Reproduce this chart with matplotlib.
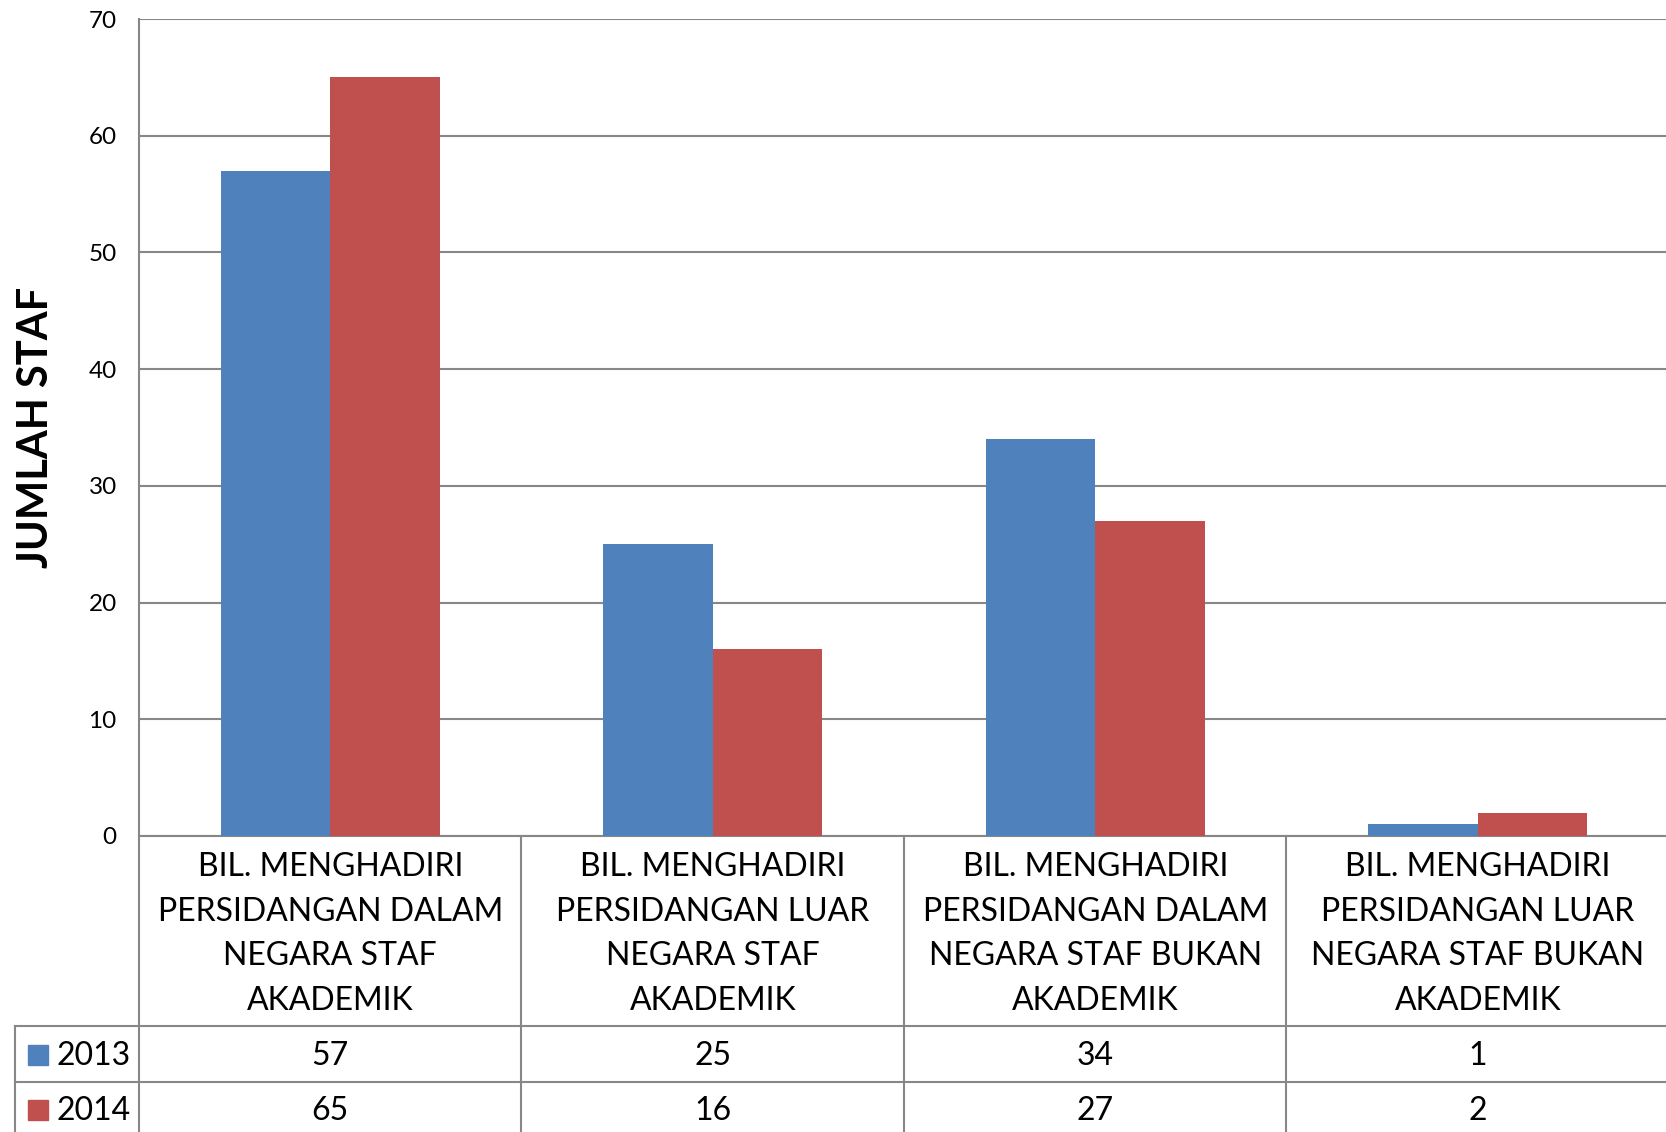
import numpy as np
import matplotlib
matplotlib.use("Agg")
from matplotlib import pyplot as plt

plt.rcParams["font.family"] = ["Lato", "DejaVu Sans"]

categories = [
    "BIL. MENGHADIRI\nPERSIDANGAN DALAM\nNEGARA STAF\nAKADEMIK",
    "BIL. MENGHADIRI\nPERSIDANGAN LUAR\nNEGARA STAF\nAKADEMIK",
    "BIL. MENGHADIRI\nPERSIDANGAN DALAM\nNEGARA STAF BUKAN\nAKADEMIK",
    "BIL. MENGHADIRI\nPERSIDANGAN LUAR\nNEGARA STAF BUKAN\nAKADEMIK",
]
series_names = ["2013", "2014"]
values_2013 = [57, 25, 34, 1]
values_2014 = [65, 16, 27, 2]
yticks = [0, 10, 20, 30, 40, 50, 60, 70]

colors = ["#4F81BD", "#C0504D"]
grid_col = "#878787"

W, H = 1666, 1132
fig = plt.figure(figsize=(W / 100, H / 100), dpi=100)

# main plot area in pixels
left_px, top_px, bottom_px = 139, 19, 836
cat_px = 382.5
ax = fig.add_axes([left_px / W, 1 - bottom_px / H, 1 - left_px / W, (bottom_px - top_px) / H])

x = np.arange(len(categories))
w = 0.286
ax.bar(x - w / 2, values_2013, w, color=colors[0], zorder=3)
ax.bar(x + w / 2, values_2014, w, color=colors[1], zorder=3)

xmax = -0.5 + (W - left_px) / cat_px
ax.set_xlim(-0.5, xmax)
ax.set_ylim(0, 70)
ax.set_yticks(yticks)
ax.set_xticks([])
ax.tick_params(axis="y", length=0, pad=16, labelsize=17.5)
ax.grid(axis="y", color=grid_col, linewidth=1.5, zorder=0)
for s in ["top", "right"]:
    ax.spines[s].set_visible(False)
for s in ["left", "bottom"]:
    ax.spines[s].set_color(grid_col)
    ax.spines[s].set_linewidth(1.5)

fig.text(36 / W, 1 - 427 / H, "JUMLAH STAF", rotation=90, ha="center", va="center",
         fontsize=30, fontweight="bold")

# data table below the plot
tab_h = H - bottom_px
tax = fig.add_axes([0, 0, 1, tab_h / H])
tax.set_xlim(-0.5 - left_px / cat_px, xmax)
tax.set_ylim(tab_h, 0)
tax.axis("off")

head_h = 190
row_h = 55.6
x_leg = -0.5 - (left_px - 15) / cat_px
lw = 1.5

# vertical lines
for b in np.arange(len(categories) + 1) - 0.5:
    tax.plot([b, b], [0, tab_h + 10], color=grid_col, lw=lw, clip_on=False)
tax.plot([x_leg, x_leg], [head_h, tab_h + 10], color=grid_col, lw=lw, clip_on=False)
# horizontal lines
for r in range(2):
    yy = head_h + r * row_h
    tax.plot([x_leg, xmax], [yy, yy], color=grid_col, lw=lw)

for i, c in enumerate(categories):
    tax.text(i, 98, c, ha="center", va="center", fontsize=23, linespacing=1.6)

for r, (name, vals) in enumerate(zip(series_names, [values_2013, values_2014])):
    yc = head_h + row_h * (r + 0.5) + 2
    for i, v in enumerate(vals):
        tax.text(i, yc, str(v), ha="center", va="center", fontsize=23)
    sq = 20 / cat_px
    tax.add_patch(plt.Rectangle((x_leg + 13 / cat_px, yc - 11), sq, 20, color=colors[r]))
    tax.text(x_leg + 42 / cat_px, yc, name, ha="left", va="center", fontsize=23)

plt.savefig("out.png", dpi=100)
